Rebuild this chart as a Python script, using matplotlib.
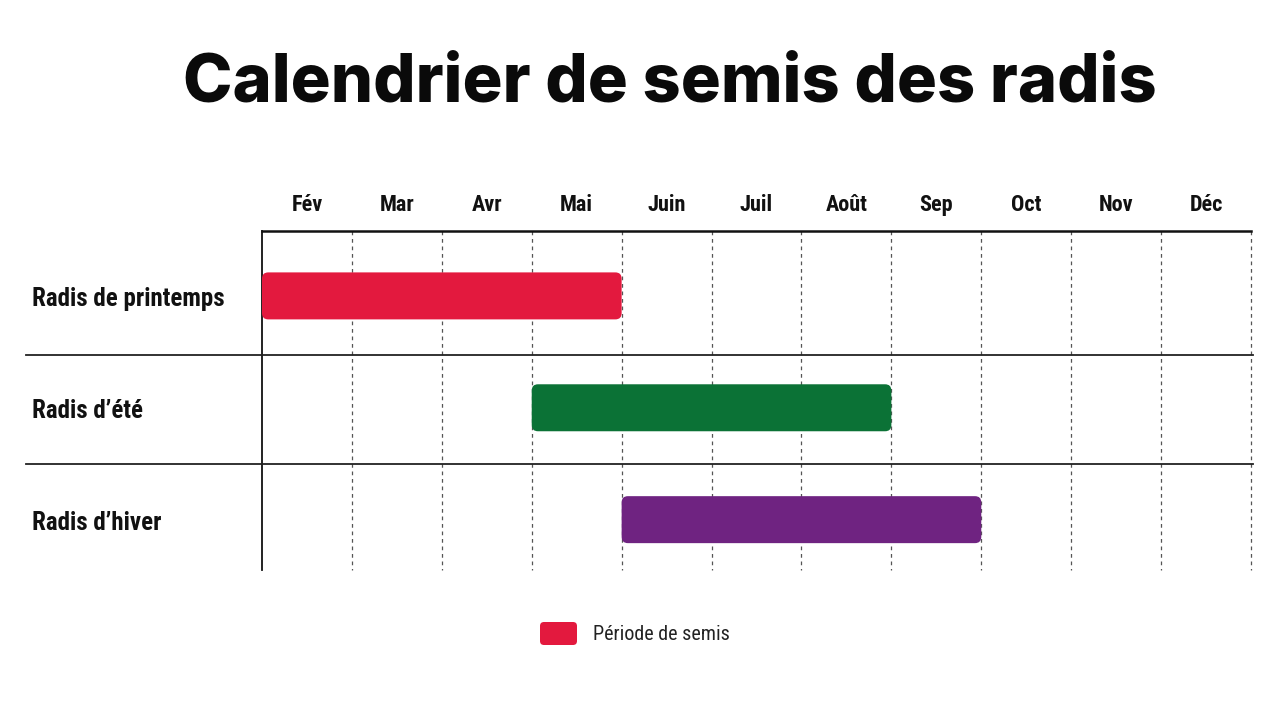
import matplotlib
matplotlib.use("Agg")
import matplotlib.pyplot as plt
from matplotlib.patches import FancyBboxPatch

# Calendar data
months = ["Fév", "Mar", "Avr", "Mai", "Juin", "Juil", "Août", "Sep", "Oct", "Nov", "Déc"]
varieties = ["Radis de printemps", "Radis d\u2019été", "Radis d\u2019hiver"]
start_month = [0, 3, 4]   # index in months
end_month = [4, 7, 8]     # exclusive index
bar_colors = ["#E3193E", "#0B7236", "#6F2381"]
legend_label = "Période de semis"
title = "Calendrier de semis des radis"

narrow = ["Roboto Condensed", "DejaVu Sans"]

fig = plt.figure(figsize=(12.8, 7.02), dpi=100)
fig.patch.set_facecolor("white")
ax = fig.add_axes([262 / 1280, 1 - 570 / 702, 989 / 1280, 339 / 702])
ax.set_xlim(0, len(months))
ax.set_ylim(2.45, -0.58)
ax.axis("off")

# Rounded bars
for i, (s, e, c) in enumerate(zip(start_month, end_month, bar_colors)):
    h = 0.42
    patch = FancyBboxPatch((s, i - h / 2), e - s, h,
                           boxstyle="round,pad=0,rounding_size=0.07",
                           mutation_aspect=0.8, facecolor=c, edgecolor="none",
                           zorder=3)
    ax.add_patch(patch)

# Grid: dashed month separators
for x in range(1, len(months) + 1):
    ax.plot([x, x], [-0.58, 2.45], color="#555555", lw=0.9,
            ls=(0, (3, 3)), zorder=1, clip_on=False)

# Top line and left line
ax.plot([0, len(months)], [-0.58, -0.58], color="#111111", lw=1.8, clip_on=False)
ax.plot([0, 0], [-0.58, 2.45], color="#111111", lw=1.3, clip_on=False)

# Row separators extending into label area
for y in [0.527, 1.5]:
    ax.plot([-2.63, len(months) + 0.02], [y, y], color="#222222", lw=1.3,
            clip_on=False)

# Month labels
for j, m in enumerate(months):
    ax.text(j + 0.5, -0.81, m, ha="center", va="center", fontsize=16,
            fontweight="bold", family=narrow, color="#111111")

# Row labels
for i, v in enumerate(varieties):
    ax.text(-2.56, i + 0.03, v, ha="left", va="center", fontsize=18,
            fontweight="bold", family=narrow, color="#111111")

# Title
fig.text(0.523, 1 - 84 / 702, title, ha="center", va="center", fontsize=48,
         fontweight=800, family=["Inter", "DejaVu Sans"], color="#0a0a0a")

# Legend
lax = fig.add_axes([0, 0, 1, 1])
lax.set_xlim(0, 1280)
lax.set_ylim(702, 0)
lax.axis("off")
lax.add_patch(FancyBboxPatch((540, 622), 37, 23,
                             boxstyle="round,pad=0,rounding_size=4",
                             facecolor=bar_colors[0], edgecolor="none"))
lax.text(593, 634, legend_label, ha="left", va="center", fontsize=14.5,
         family=narrow, color="#222222")

fig.savefig("out.png", dpi=100, facecolor="white")
